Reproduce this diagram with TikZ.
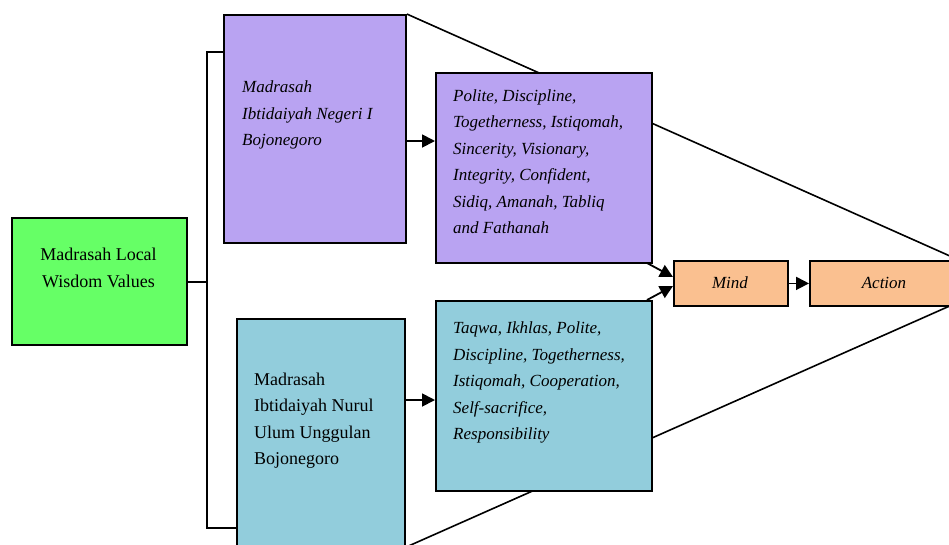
\documentclass[tikz,border=0pt]{standalone}
\usepackage{fontspec}
\setmainfont{Liberation Serif}
\usetikzlibrary{arrows.meta}
\definecolor{cgreen}{RGB}{102,255,102}
\definecolor{cpurple}{RGB}{185,163,242}
\definecolor{cblue}{RGB}{146,205,220}
\definecolor{corange}{RGB}{250,192,144}
\tikzset{
  boxs/.style={draw=black, line width=1.8pt, rectangle, inner sep=0pt, anchor=north west},
  txt/.style={font=\fontsize{18}{26.5}\selectfont, align=left, inner sep=0pt, anchor=west},
  itxt/.style={txt, font=\fontsize{17}{26.5}\selectfont\itshape},
  arr/.style={line width=1.8pt, -{Triangle[length=13pt,width=13pt]}},
  ln/.style={line width=1.6pt}
}
\begin{document}
\begin{tikzpicture}[x=1pt,y=-1pt]
\useasboundingbox (0,0) rectangle (949,544);
\clip (0,0) rectangle (949,544);
\coordinate (apex) at (1006,281);
\coordinate (bstart) at (404,548);
% funnel lines
\node[boxs, draw=none, minimum width=182pt, minimum height=228pt] (p1) at (223,14) {};
\draw[ln] (p1.north east) -- (apex);
\draw[ln] (bstart) -- (apex);
% boxes
\node[boxs, fill=cgreen, minimum width=175pt, minimum height=127pt] (g) at (11,217) {};
\node[boxs, fill=cpurple, minimum width=182pt, minimum height=228pt] (p1b) at (223,14) {};
\node[boxs, fill=cblue, minimum width=168pt, minimum height=240pt] (b1) at (236,318) {};
\node[boxs, fill=cpurple, minimum width=216pt, minimum height=190pt] (p2) at (435,72) {};
\node[boxs, fill=cblue, minimum width=216pt, minimum height=190pt] (b2) at (435,300) {};
\node[boxs, fill=corange, minimum width=114pt, minimum height=45pt] (mind) at (673,260) {};
\node[boxs, fill=corange, minimum width=150pt, minimum height=45pt] (action) at (809,260) {};
% texts
\node[txt, align=center, anchor=center] (gt) at (98.5,268) {Madrasah Local\\Wisdom Values};
\node[itxt] (p1t) at (242,115) {Madrasah\\Ibtidaiyah Negeri I\\Bojonegoro};
\node[txt] (b1t) at (254,420.5) {Madrasah\\Ibtidaiyah Nurul\\Ulum Unggulan\\Bojonegoro};
\node[itxt] (p2t) at (453,161.5) {Polite, Discipline,\\Togetherness, Istiqomah,\\Sincerity, Visionary,\\Integrity, Confident,\\Sidiq, Amanah, Tabliq\\and Fathanah};
\node[itxt] (b2t) at (453,382.5) {Taqwa, Ikhlas, Polite,\\Discipline, Togetherness,\\Istiqomah, Cooperation,\\Self-sacrifice,\\Responsibility};
\node[itxt, anchor=center] (mindt) at (730,282.5) {Mind};
\node[itxt, anchor=center] (actiont) at (884,282.5) {Action};
% tree connector
\coordinate (vx) at (207,282);
\draw[ln] (g.east |- vx) -- (vx);
\draw[ln] (p1b.west |- 0,52) -| (207,528) -- (b1.west |- 0,528);
% arrows
\draw[arr] (p1b.east |- 0,141) -- (p2.west |- 0,141);
\draw[arr] (b1.east |- 0,400) -- (b2.west |- 0,400);
\draw[arr] (647,263) -- (mind.west |- 0,277);
\draw[arr] (647,300) -- (mind.west |- 0,286);
\draw[arr] (mind.east) -- (action.west);
\end{tikzpicture}
\end{document}
